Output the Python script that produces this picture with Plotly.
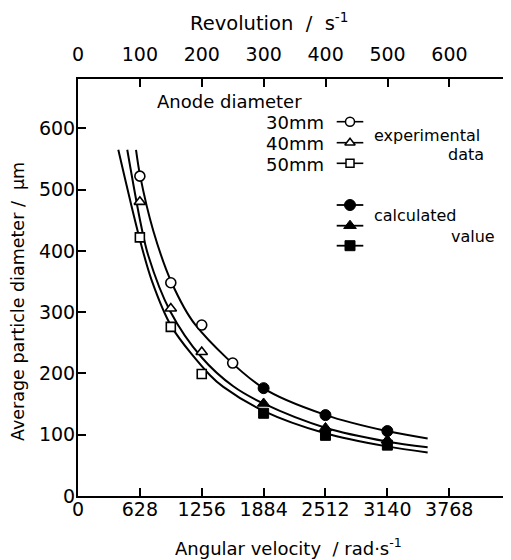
import math
import plotly.graph_objects as go

# ---------------- data ----------------
# fitted curves: angular velocity (rad/s) vs average particle diameter (um)
curve30_w = [589, 629, 764, 951, 1188, 1881, 2517, 3133, 3549]
curve30_d = [565, 524, 433, 348, 280, 176, 132, 106, 94]
curve40_w = [500, 636, 714, 934, 1256, 1576, 1881, 2517, 3133, 3549]
curve40_d = [565, 445, 392, 302, 226, 179, 151, 111, 89, 79.5]
curve50_w = [409, 622, 748, 951, 1340, 1475, 1881, 2517, 3133, 3549]
curve50_d = [565, 422, 352, 276, 197, 178, 139, 102, 81, 71]

# experimental data
exp_w30 = [628, 942, 1256, 1570]
exp_d30 = [522, 348, 279, 217]
exp_w40 = [628, 942, 1256]
exp_d40 = [480, 306, 235]
exp_w50 = [628, 942, 1256]
exp_d50 = [422, 276, 199]

# calculated values
calc_w = [1884, 2512, 3140]
calc_d30 = [176, 132, 106]
calc_d40 = [151, 111, 91]
calc_d50 = [135, 99, 83]

x_ticks = [0, 628, 1256, 1884, 2512, 3140, 3768]
top_ticks = [0, 100, 200, 300, 400, 500, 600]
y_ticks = [0, 100, 200, 300, 400, 500, 600]

# ---------------- layout constants ----------------
OFF = 8                      # page offset of the figure (body margin)
W, H = 503, 552              # figure size
ML, MR, MT, MB = 70, 0, 71, 64
PW, PH = W - ML - MR, H - MT - MB
XMAX = 4395.0
YMAX = 680.5
FONT = "DejaVu Sans"
LW = 2

def px(xp):   # page pixel -> paper x
    return (xp - OFF - ML) / PW
def py(yp):   # page pixel -> paper y
    return (H - MB - (yp - OFF)) / PH

fig = go.Figure()

line_style = dict(color="black", width=LW, shape="spline", smoothing=0.9)
for w, d in [(curve30_w, curve30_d), (curve40_w, curve40_d), (curve50_w, curve50_d)]:
    fig.add_trace(go.Scatter(x=w, y=d, mode="lines", line=line_style,
                             hoverinfo="skip", showlegend=False))

open_mk = dict(color="white", line=dict(color="black", width=1.6))
fig.add_trace(go.Scatter(x=exp_w30, y=exp_d30, mode="markers",
                         marker=dict(symbol="circle", size=10, **open_mk), showlegend=False))
fig.add_trace(go.Scatter(x=exp_w40, y=exp_d40, mode="markers",
                         marker=dict(symbol="triangle-up", size=10, **open_mk), showlegend=False))
fig.add_trace(go.Scatter(x=exp_w50, y=exp_d50, mode="markers",
                         marker=dict(symbol="square", size=9, **open_mk), showlegend=False))

fill_mk = dict(color="black", line=dict(color="black", width=1))
fig.add_trace(go.Scatter(x=calc_w, y=calc_d50, mode="markers",
                         marker=dict(symbol="square", size=10, **fill_mk), showlegend=False))
fig.add_trace(go.Scatter(x=calc_w, y=calc_d40, mode="markers",
                         marker=dict(symbol="triangle-up", size=11, **fill_mk), showlegend=False))
fig.add_trace(go.Scatter(x=calc_w, y=calc_d30, mode="markers",
                         marker=dict(symbol="circle", size=11, **fill_mk), showlegend=False))

# top axis dummy trace
fig.add_trace(go.Scatter(x=[0], y=[0], xaxis="x2", mode="markers",
                         marker=dict(opacity=0), hoverinfo="skip", showlegend=False))

# ---------------- legend keys on a page-pixel overlay ----------------
key_x0, key_x1, key_xc = 336.7, 363.3, 350
exp_rows = [121.7, 142.7, 163.3]
calc_rows = [205, 225.7, 245.7]
syms = ["circle", "triangle-up", "square"]
for yy, s, sz in zip(exp_rows, syms, [9, 9, 8]):
    fig.add_trace(go.Scatter(x=[key_x0, key_x1], y=[yy, yy], xaxis="x3", yaxis="y3",
                             mode="lines", line=dict(color="black", width=1.6),
                             hoverinfo="skip", showlegend=False))
    fig.add_trace(go.Scatter(x=[key_xc], y=[yy], xaxis="x3", yaxis="y3", mode="markers",
                             marker=dict(symbol=s, size=sz, color="white",
                                         line=dict(color="black", width=1.5)),
                             hoverinfo="skip", showlegend=False))
for yy, s, sz in zip(calc_rows, syms, [11, 11, 10]):
    fig.add_trace(go.Scatter(x=[key_x0, key_x1], y=[yy, yy], xaxis="x3", yaxis="y3",
                             mode="lines", line=dict(color="black", width=1.8),
                             hoverinfo="skip", showlegend=False))
    fig.add_trace(go.Scatter(x=[key_xc], y=[yy], xaxis="x3", yaxis="y3", mode="markers",
                             marker=dict(symbol=s, size=sz, color="black",
                                         line=dict(color="black", width=1)),
                             hoverinfo="skip", showlegend=False))

def ann(text, x, y, xanchor="left", size=17, angle=0):
    return dict(text=text, x=px(x), y=py(y), xref="paper", yref="paper", showarrow=False,
                xanchor=xanchor, yanchor="middle", textangle=angle,
                font=dict(family=FONT, size=size, color="black"))

annotations = [
    ann("Anode diameter", 155, 101, size=18),
    ann("30mm", 326, 122, "right", size=18),
    ann("40mm", 326, 143, "right", size=18),
    ann("50mm", 326, 164, "right", size=18),
    ann("experimental", 372, 135, size=16),
    ann("data", 486, 154, "right", size=16),
    ann("calculated", 372, 216, size=16),
    ann("value", 497, 236, "right", size=16),
    ann("Revolution&nbsp;&nbsp;/&nbsp;&nbsp;s<sup>-1</sup>", 269, 22, "center", size=19.5),
    ann("Angular velocity&nbsp;&nbsp;/&nbsp;rad·s<sup>-1</sup>", 288, 547, "center", size=18),
    ann("Average particle diameter&nbsp;/&nbsp;&nbsp;µm", 18, 302, "center", size=17.5, angle=-90),
]

tickfont = dict(family=FONT, size=19, color="black")
axis_common = dict(showgrid=False, zeroline=False, showline=True, linecolor="black",
                   linewidth=LW, ticks="inside", ticklen=8, tickwidth=1.6,
                   tickcolor="black", tickfont=tickfont, mirror=False)

fig.update_layout(
    width=W, height=H,
    margin=dict(l=ML, r=MR, t=MT, b=MB, pad=0),
    paper_bgcolor="white", plot_bgcolor="white",
    font=dict(family=FONT, color="black"),
    xaxis=dict(range=[0, XMAX], tickmode="array", tickvals=x_ticks,
               ticktext=[str(v) for v in x_ticks], ticklabelstandoff=-5, **axis_common),
    xaxis2=dict(range=[0, XMAX / (2 * math.pi)], overlaying="x", side="top",
                anchor="y", tickmode="array", tickvals=top_ticks,
                ticktext=[str(v) for v in top_ticks], ticklabelstandoff=8, **axis_common),
    yaxis=dict(range=[0, YMAX], tickmode="array", tickvals=y_ticks,
               ticktext=[str(v) for v in y_ticks], ticklabelstandoff=-3, **axis_common),
    xaxis3=dict(range=[ML + OFF, W + OFF - MR], overlaying="x", visible=False, anchor="y3"),
    yaxis3=dict(range=[H + OFF - MB, MT + OFF], overlaying="y", visible=False, anchor="x3"),
    annotations=annotations,
    showlegend=False,
)

fig.write_html("out.html")
